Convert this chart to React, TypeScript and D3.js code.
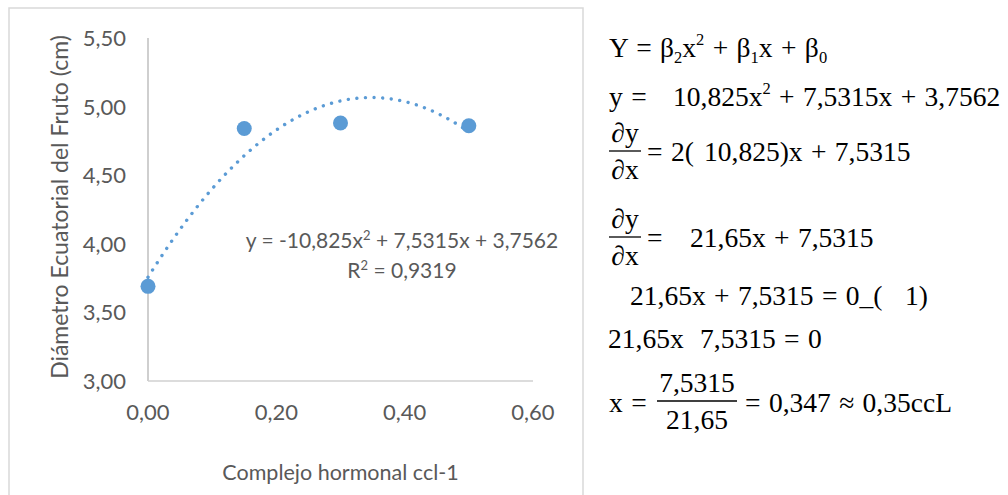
import React from "react";
import * as d3 from "d3";

// ---- data ----
const doses = [0, 0.15, 0.3, 0.5];
const diameters = [3.69, 4.84, 4.88, 4.86];
const xTicks = [0, 0.2, 0.4, 0.6];
const yTicks = [3.0, 3.5, 4.0, 4.5, 5.0, 5.5];
// quadratic trend line shown in the chart: c0 + c1 x + c2 x^2
const trendCoeffs = [3.7562, 7.5315, -10.825];
const trendLabel = "y = -10,825x";
const trendLabelRest = " + 7,5315x + 3,7562";
const r2Label = "R";
const r2Rest = " = 0,9319";
const xTitle = "Complejo hormonal ccl-1";
const yTitle = "Diámetro Ecuatorial del Fruto (cm)";

const W = 1008;
const H = 495;
const plot = { left: 148, right: 533, top: 38, bottom: 381 };
const axisFont = "Lato, 'Open Sans', sans-serif";
const mathFont = "'Liberation Serif', 'Times New Roman', serif";
const textColor = "#595959";
const blue = "#5B9BD5";

const fmt = (v: number) => d3.format(".2f")(v).replace(".", ",");

type Seg = { t: string; s?: "sub" | "sup"; x?: number };

const MS = 27.5; // math font size

function MathLine({ x, y, segs }: { x: number; y: number; segs: Seg[] }) {
  let cur = 0;
  const spans: React.ReactNode[] = [];
  segs.forEach((sg, i) => {
    const target = sg.s === "sup" ? -MS * 0.45 : sg.s === "sub" ? MS * 0.22 : 0;
    const dy = target - cur;
    cur = target;
    spans.push(
      <tspan key={i} dy={dy} x={sg.x} fontSize={sg.s ? MS * 0.6 : MS}>
        {sg.t}
      </tspan>
    );
  });
  return (
    <text x={x} y={y} fontFamily={mathFont} fontSize={MS} fill="#000" wordSpacing={1.5} style={{ whiteSpace: "pre" }}>
      {spans}
    </text>
  );
}

function Frac({ cx, bar, num, den, w }: { cx: number; bar: number; num: string; den: string; w: number }) {
  return (
    <g fontFamily={mathFont} fontSize={MS} fill="#000">
      <text x={cx} y={bar - 9} textAnchor="middle">{num}</text>
      <line x1={cx - w / 2} x2={cx + w / 2} y1={bar} y2={bar} stroke="#000" strokeWidth={1.3} />
      <text x={cx} y={bar + 28} textAnchor="middle">{den}</text>
    </g>
  );
}

export default function App() {
  const x = d3.scaleLinear().domain([0, 0.6]).range([plot.left, plot.right]);
  const y = d3.scaleLinear().domain([3, 5.5]).range([plot.bottom, plot.top]);

  const xMax = d3.max(doses) as number;
  const trendPts = d3.range(0, xMax + 1e-9, xMax / 200).map((v) => [
    v,
    trendCoeffs[0] + trendCoeffs[1] * v + trendCoeffs[2] * v * v,
  ]);
  const line = d3
    .line<number[]>()
    .x((d) => x(d[0]))
    .y((d) => y(d[1]))
    .curve(d3.curveLinear);

  const labelX = 402;

  return (
    <div style={{ position: "absolute", left: 0, top: 0 }}>
      <svg width={W} height={H} style={{ display: "block", background: "#fff" }}>
        {/* chart frame */}
        <rect x={9} y={8} width={574} height={520} fill="#fff" stroke="#d9d9d9" strokeWidth={1.5} />

        {/* axes */}
        <line x1={plot.left} x2={plot.left} y1={plot.top} y2={plot.bottom} stroke="#bfbfbf" strokeWidth={1.5} />
        <line x1={plot.left} x2={plot.right} y1={plot.bottom} y2={plot.bottom} stroke="#d0d0d0" strokeWidth={1.5} />

        {/* y tick labels */}
        {yTicks.map((t) => (
          <text key={"y" + t} x={126} y={y(t)} dy="0.36em" textAnchor="end" fontFamily={axisFont} fontSize={22} fill={textColor}>
            {fmt(t)}
          </text>
        ))}
        {/* x tick labels */}
        {xTicks.map((t) => (
          <text key={"x" + t} x={x(t)} y={412} dy="0.36em" textAnchor="middle" fontFamily={axisFont} fontSize={22} fill={textColor}>
            {fmt(t)}
          </text>
        ))}

        {/* axis titles */}
        <text x={x(0.3)} y={472} dy="0.36em" textAnchor="middle" fontFamily={axisFont} fontSize={21.5} fill={textColor}>
          {xTitle}
        </text>
        <text transform={`translate(68,207) rotate(-90)`} textAnchor="middle" fontFamily={axisFont} fontSize={23} fill={textColor}>
          {yTitle}
        </text>

        {/* trend line */}
        <path d={line(trendPts) || ""} fill="none" stroke={blue} strokeWidth={3.4} strokeLinecap="round" strokeDasharray="0.01 8.6" />

        {/* points */}
        {doses.map((d, i) => (
          <circle key={i} cx={x(d)} cy={y(diameters[i])} r={7.5} fill={blue} />
        ))}

        {/* trend equation */}
        <text x={labelX} y={248} textAnchor="middle" fontFamily={axisFont} fontSize={21} fill={textColor}>
          {trendLabel}
          <tspan fontSize={13} dy={-8}>2</tspan>
          <tspan dy={8}>{trendLabelRest}</tspan>
        </text>
        <text x={labelX} y={278} textAnchor="middle" fontFamily={axisFont} fontSize={21} fill={textColor}>
          {r2Label}
          <tspan fontSize={13} dy={-8}>2</tspan>
          <tspan dy={8}>{r2Rest}</tspan>
        </text>

        {/* derivation */}
        <MathLine
          x={609}
          y={57}
          segs={[
            { t: "Y = β" },
            { t: "2", s: "sub" },
            { t: "x" },
            { t: "2", s: "sup" },
            { t: " + β" },
            { t: "1", s: "sub" },
            { t: "x + β" },
            { t: "0", s: "sub" },
          ]}
        />
        <MathLine
          x={609}
          y={106}
          segs={[
            { t: "y =" },
            { t: "10,825x", x: 673 },
            { t: "2", s: "sup" },
            { t: " + 7,5315x + 3,7562" },
          ]}
        />
        <Frac cx={625} bar={151} num="∂y" den="∂x" w={32} />
        <MathLine x={647} y={161} segs={[{ t: "= 2(" }, { t: "10,825)x + 7,5315", x: 704 }]} />
        <Frac cx={625} bar={237} num="∂y" den="∂x" w={32} />
        <MathLine x={647} y={247} segs={[{ t: "=" }, { t: "21,65x + 7,5315", x: 690 }]} />
        <MathLine x={630} y={305} segs={[{ t: "21,65x + 7,5315 = 0_(" }, { t: "1)", x: 905 }]} />
        <MathLine x={608} y={348} segs={[{ t: "21,65x" }, { t: "7,5315 = 0", x: 700 }]} />
        <MathLine x={609} y={412} segs={[{ t: "x =" }]} />
        <Frac cx={697} bar={401} num="7,5315" den="21,65" w={80} />
        <MathLine x={745} y={412} segs={[{ t: "= 0,347 ≈ 0,35ccL" }]} />
      </svg>
    </div>
  );
}
